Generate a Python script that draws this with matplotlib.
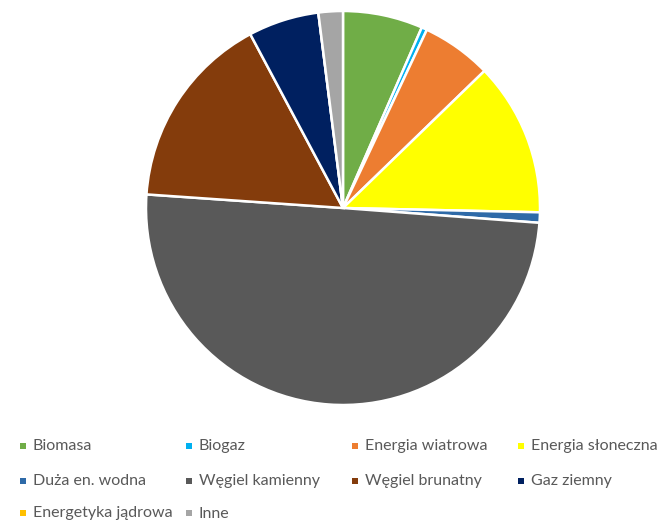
import matplotlib.pyplot as plt
from matplotlib.patches import Rectangle

# udzialy w produkcji energii [%]
labels = ["Biomasa", "Biogaz", "Energia wiatrowa", "Energia słoneczna",
          "Duża en. wodna", "Węgiel kamienny", "Węgiel brunatny", "Gaz ziemny",
          "Energetyka jądrowa", "Inne"]
values = [6.55, 0.45, 5.75, 12.6, 0.85, 49.9, 16.1, 5.8, 0.0, 2.0]
colors = ["#70AD47", "#00B0F0", "#ED7D31", "#FFFF00", "#2E6AA8", "#595959",
          "#843C0C", "#002060", "#FFC000", "#A5A5A5"]

plt.rcParams['font.family'] = ['Lato', 'DejaVu Sans']

W, H = 663, 521
fig = plt.figure(figsize=(W / 100, H / 100), dpi=100)
# os kolowa: srodek (343, 208), promien ~197 px
ax = fig.add_axes([(343 - 197) / W, (H - 208 - 197) / H, 394 / W, 394 / H])
ax.pie(values, colors=colors, startangle=90, counterclock=False,
       wedgeprops=dict(edgecolor="white", linewidth=1.8))
ax.set_xlim(-1, 1)
ax.set_ylim(-1, 1)
ax.set_aspect('equal')

# legenda: 4 kolumny, wierszami
col_x = 20
col_w = 166
row_y = [445.5, 480.5, 513]
for i, (lab, c) in enumerate(zip(labels, colors)):
    r, k = divmod(i, 4)
    x = col_x + k * col_w
    y = row_y[r]
    fig.patches.append(Rectangle((x / W, 1 - (y + 3) / H), 6 / W, 6 / H,
                                 transform=fig.transFigure, facecolor=c,
                                 edgecolor='none'))
    fig.text((x + 13) / W, 1 - (y + 0.5) / H, lab, fontsize=11.5,
             color="#595959", va='center', ha='left')

fig.savefig("out.png", dpi=100)
